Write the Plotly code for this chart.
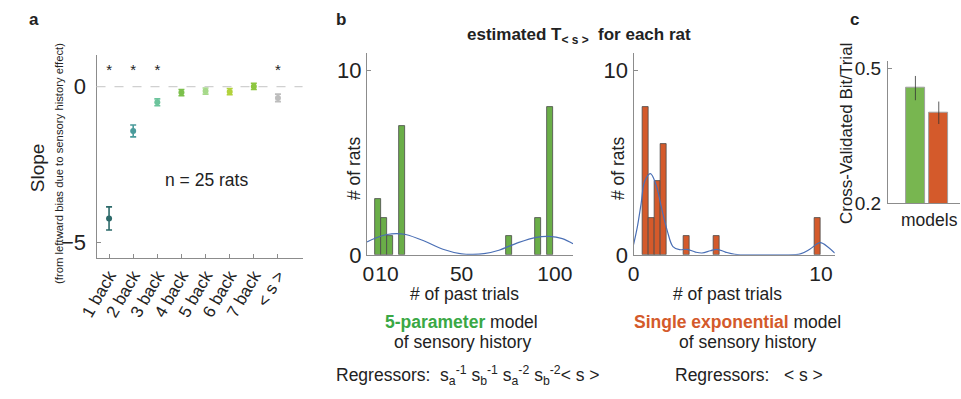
import plotly.graph_objects as go

W, H = 961, 399
FONT = "Liberation Sans, Arial, Helvetica, sans-serif"
AXC = "#8c8c8c"
TXT = "#222222"

# ---- panel a: regression slopes ----
lag_labels = ["1 back", "2 back", "3 back", "4 back", "5 back", "6 back", "7 back", "&lt; s &gt;"]
slope_mean = [-4.23, -1.42, -0.50, -0.19, -0.14, -0.16, 0.01, -0.36]
slope_err = [0.37, 0.19, 0.11, 0.10, 0.10, 0.10, 0.10, 0.12]
lag_colors = ["#2d6a6a", "#4a9b9b", "#6cc49c", "#7cc04c", "#a6d98a", "#b2d23c", "#8dc63f", "#bdbdbd"]
signif_idx = [0, 1, 2, 7]
star_level = 0.5

# ---- panel b: histograms of estimated time constants ----
five_bin_centers = [5.3, 8.4, 11.6, 18.0, 75.5, 91.2, 97.6]
five_counts = [3, 2, 1, 7, 1, 2, 8]
five_bin_width = 3.2
five_curve_x = [-0.7, 5, 10, 15, 20, 30, 40, 50, 56, 62, 70, 80, 90, 97, 104, 109.8]
five_curve_y = [0.70, 0.95, 1.10, 1.15, 1.10, 0.75, 0.30, 0.05, 0.02, 0.06, 0.25, 0.65, 0.95, 1.00, 0.88, 0.60]

exp_bin_centers = [0.62, 0.95, 1.28, 1.60, 2.83, 4.43, 9.83]
exp_counts = [8, 2, 4, 6, 1, 1, 2]
exp_bin_width = 0.33
exp_curve_x = [0.0, 0.2, 0.4, 0.6, 0.9, 1.2, 1.5, 1.8, 2.1, 2.45, 2.85, 3.3, 3.65, 4.1, 4.45, 4.9, 5.4, 6.5, 8.0, 8.9, 9.4, 9.95, 10.4, 10.73]
exp_curve_y = [0.55, 1.5, 2.75, 4.0, 4.4, 3.8, 2.5, 1.3, 0.45, 0.28, 0.30, 0.15, 0.10, 0.22, 0.30, 0.15, 0.03, 0.0, 0.0, 0.05, 0.30, 0.66, 0.40, 0.09]

# ---- panel c: model comparison ----
model_names = ["5-parameter", "Single exponential"]
bit_per_trial = [0.457, 0.402]
bit_err = [0.027, 0.025]
model_colors = ["#78b650", "#d45a2b"]
hist_colors = ["#6aae48", "#d45a2b"]


def dom_x(p0, p1):
    return [p0 / W, p1 / W]


def dom_y(top, bottom):
    return [1 - bottom / H, 1 - top / H]


fig = go.Figure()

# panel a traces
for i, (m, e, c) in enumerate(zip(slope_mean, slope_err, lag_colors)):
    fig.add_trace(go.Scatter(
        x=[i], y=[m], mode="markers",
        marker=dict(color=c, size=6),
        error_y=dict(type="data", array=[e], color=c, thickness=1.6, width=3),
        xaxis="x", yaxis="y", showlegend=False))
fig.add_trace(go.Scatter(
    x=signif_idx, y=[star_level] * len(signif_idx), mode="text", text=["*"] * len(signif_idx),
    textfont=dict(size=15, color=TXT, family=FONT), textposition="middle center",
    xaxis="x", yaxis="y", showlegend=False))

# panel b left: 5-parameter model
fig.add_trace(go.Bar(
    x=five_bin_centers, y=five_counts, width=five_bin_width,
    marker=dict(color=hist_colors[0], line=dict(color="#4a4a4a", width=0.8)),
    xaxis="x2", yaxis="y2", showlegend=False))
fig.add_trace(go.Scatter(
    x=five_curve_x, y=five_curve_y, mode="lines", line=dict(color="#4a6fb5", width=1.2, shape="spline"),
    xaxis="x2", yaxis="y2", showlegend=False))

# panel b right: single exponential model
fig.add_trace(go.Bar(
    x=exp_bin_centers, y=exp_counts, width=exp_bin_width,
    marker=dict(color=hist_colors[1], line=dict(color="#4a4a4a", width=0.8)),
    xaxis="x3", yaxis="y3", showlegend=False))
fig.add_trace(go.Scatter(
    x=exp_curve_x, y=exp_curve_y, mode="lines", line=dict(color="#4a6fb5", width=1.2, shape="spline"),
    xaxis="x3", yaxis="y3", showlegend=False))

# panel c
fig.add_trace(go.Bar(
    x=[0, 1], y=bit_per_trial, width=0.8,
    marker=dict(color=model_colors, line=dict(color="#a0a0a0", width=1)),
    error_y=dict(type="data", array=bit_err, color="#333333", thickness=0.8, width=0),
    xaxis="x4", yaxis="y4", showlegend=False))

axis_common = dict(showline=True, linecolor=AXC, linewidth=1.2, showgrid=False, zeroline=False,
                   ticks="inside", tickcolor=AXC, ticklen=4, tickfont=dict(family=FONT, color=TXT))

fig.update_layout(
    width=W, height=H, margin=dict(l=0, r=0, t=0, b=0),
    paper_bgcolor="white", plot_bgcolor="white",
    font=dict(family=FONT, color=TXT),
    bargap=0,
    xaxis=dict(axis_common, domain=dom_x(80, 290), range=[-0.52, 8.02],
               tickvals=list(range(len(lag_labels))), ticktext=lag_labels, tickangle=-60,
               tickfont=dict(family=FONT, size=17, color=TXT), anchor="y"),
    yaxis=dict(axis_common, domain=dom_y(55, 266), range=[-5.5, 1.02],
               tickvals=[-5, 0], tickfont=dict(family=FONT, size=22, color=TXT),
               ticklabelstandoff=5, anchor="x"),
    xaxis2=dict(axis_common, domain=dom_x(355.7, 565.7), range=[-0.7, 109.8],
                tickvals=[0, 10, 50, 100], tickangle=0, tickfont=dict(family=FONT, size=21, color=TXT),
                anchor="y2", ticklen=0, ticklabelstandoff=0),
    yaxis2=dict(axis_common, domain=dom_y(53, 262.7), range=[0, 10.94],
                tickvals=[0, 10], tickfont=dict(family=FONT, size=22, color=TXT), anchor="x2"),
    xaxis3=dict(axis_common, domain=dom_x(627.3, 832.3), range=[0, 10.73],
                tickvals=[0, 10], tickangle=0, tickfont=dict(family=FONT, size=21, color=TXT),
                anchor="y3", ticklen=0, ticklabelstandoff=0),
    yaxis3=dict(axis_common, domain=dom_y(53, 262.7), range=[0, 10.94],
                tickvals=[0, 10], tickfont=dict(family=FONT, size=22, color=TXT), anchor="x3"),
    xaxis4=dict(axis_common, domain=dom_x(886.7, 960), range=[-1.17, 1.91],
                showticklabels=False, ticks="", anchor="y4"),
    yaxis4=dict(axis_common, domain=dom_y(61, 209.3), range=[0.2, 0.518],
                tickvals=[0.2, 0.5], ticktext=["0.2", "0.5"], ticklabelstandoff=2,
                tickfont=dict(family=FONT, size=19, color=TXT), anchor="x4"),
)

# dashed zero reference in panel a
fig.add_shape(type="line", xref="x domain", yref="y", x0=0, x1=1, y0=0, y1=0,
              line=dict(color="#d0d0d0", width=1.2, dash="dash"))


def txt(x, y, s, size=17, bold=False, angle=0, color=TXT, xanchor="center"):
    fig.add_annotation(x=x / W, y=1 - y / H, xref="paper", yref="paper", text=(f"<b>{s}</b>" if bold else s),
                       showarrow=False, textangle=angle, xanchor=xanchor, yanchor="middle",
                       font=dict(family=FONT, size=size, color=color))


# panel letters
txt(16, 18, "a", size=17, bold=True)
txt(329, 18, "b", size=17, bold=True)
txt(852, 18, "c", size=17, bold=True)

# panel a labels
txt(20, 172, "Slope", size=19, angle=-90)
txt(41, 168, "(from leftward bias due to sensory history effect)", size=11.3, angle=-90)
txt(192, 185, "n = 25 rats", size=17.5)

# panel b labels
txt(572, 35, "estimated T<sub>&lt; s &gt;</sub>  for each rat", size=17, bold=True)
txt(343, 173, "# of rats", size=17.5, angle=-90)
txt(612, 173, "# of rats", size=17.5, angle=-90)
txt(455, 303, "# of past trials", size=17.5)
txt(723, 303, "# of past trials", size=17.5)
txt(452, 332, "<b><span style='color:#3aa845'>5-parameter</span></b> model", size=17.5)
txt(453, 353, "of sensory history", size=17.5)
txt(733, 332, "<b><span style='color:#d45a2b'>Single exponential</span></b> model", size=17.5)
txt(743, 353, "of sensory history", size=17.5)
txt(459, 388, "Regressors:  s<sub>a</sub><sup>-1</sup> s<sub>b</sub><sup>-1</sup> s<sub>a</sub><sup>-2</sup> s<sub>b</sub><sup>-2</sup>&lt; s &gt;", size=17.5)
txt(745, 388, "Regressors:   &lt; s &gt;", size=17.5)

# panel c labels
txt(845, 137, "Cross-Validated Bit/Trial", size=17, angle=-90)
txt(929, 227, "models", size=17.5)

fig.write_html("out.html")
